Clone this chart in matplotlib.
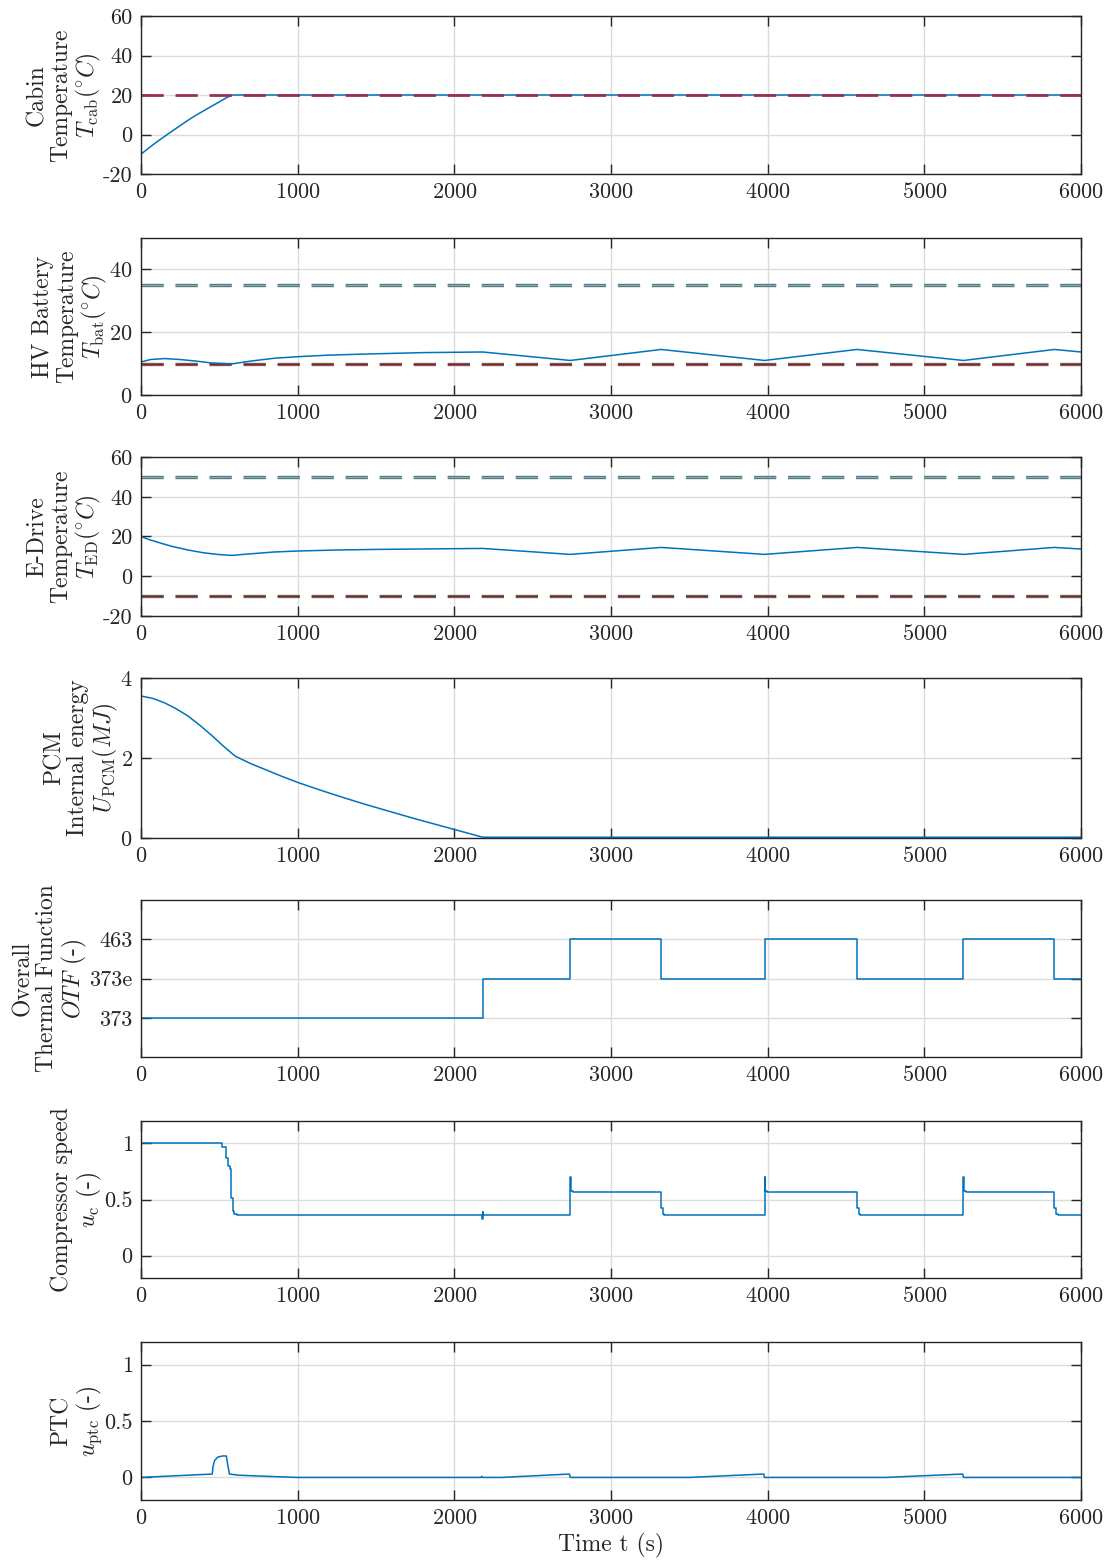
import matplotlib
matplotlib.use('Agg')
import matplotlib.pyplot as plt
import numpy as np

plt.rcParams['font.family'] = 'serif'
plt.rcParams['font.serif'] = ['cmr10', 'DejaVu Serif']
plt.rcParams['mathtext.fontset'] = 'cm'
plt.rcParams['axes.formatter.use_mathtext'] = True
plt.rcParams['lines.scale_dashes'] = False

# ---- data ----
t_cab = [0, 50, 100, 150, 200, 250, 300, 350, 400, 450, 500, 540, 580, 6000]
T_cab = [-10, -6.8, -3.8, -1.0, 1.8, 4.5, 7.2, 9.7, 12.0, 14.3, 16.5, 18.4, 20, 20]
T_cab_ref = 20

t_bat = [0, 60, 150, 250, 350, 450, 580, 700, 850, 1000, 1200, 1400, 1800, 2180, 2740, 3320, 3980, 4570, 5250, 5830, 6000]
T_bat = [10.5, 11.3, 11.6, 11.3, 10.8, 10.2, 9.9, 10.8, 11.7, 12.2, 12.7, 13.0, 13.5, 13.7, 11.0, 14.5, 11.0, 14.5, 11.0, 14.5, 13.7]
T_bat_max = 35
T_bat_min = 10

t_ed = [0, 50, 100, 150, 200, 300, 400, 500, 580, 700, 850, 1000, 1250, 1500, 2180, 2740, 3320, 3980, 4570, 5250, 5830, 6000]
T_ed = [20, 18.5, 17.3, 16.1, 15.0, 13.2, 11.8, 10.9, 10.5, 11.3, 12.2, 12.7, 13.2, 13.5, 14.0, 11.0, 14.5, 11.0, 14.5, 11.0, 14.5, 13.7]
T_ed_max = 50
T_ed_min = -10

t_pcm = [0, 75, 150, 225, 300, 375, 450, 525, 600, 700, 800, 900, 1000, 1150, 1300, 1450, 1600, 1750, 1900, 2050, 2180, 6000]
U_pcm = [3.55, 3.49, 3.38, 3.23, 3.05, 2.82, 2.57, 2.30, 2.05, 1.86, 1.70, 1.54, 1.39, 1.19, 1.00, 0.82, 0.65, 0.48, 0.32, 0.16, 0.02, 0.02]

t_otf = [0, 2180, 2740, 3320, 3980, 4570, 5250, 5830, 6000]
otf_level = [1, 2, 3, 2, 3, 2, 3, 2, 2]
otf_labels = ['373', '373e', '463']

t_comp = [0, 520, 540, 555, 565, 575, 585, 595, 610,
          2175, 2180, 2185,
          2740, 2745, 2755, 3320, 3330, 3340,
          3980, 3985, 3995, 4570, 4580, 4590,
          5250, 5255, 5265, 5830, 5840, 5850, 6000]
u_comp = [1.0, 0.97, 0.87, 0.80, 0.77, 0.51, 0.40, 0.37, 0.36,
          0.33, 0.39, 0.36,
          0.70, 0.58, 0.57, 0.42, 0.37, 0.36,
          0.70, 0.58, 0.57, 0.42, 0.37, 0.36,
          0.70, 0.58, 0.57, 0.42, 0.37, 0.36, 0.36]

t_ptc = [0, 455, 460, 470, 490, 520, 545, 555, 565, 620, 800, 1000, 2170, 2175, 2180,
         2300, 2735, 2740, 3500, 3975, 3980, 4750, 5245, 5250, 6000]
u_ptc = [0, 0.03, 0.10, 0.15, 0.18, 0.19, 0.19, 0.10, 0.03, 0.02, 0.01, 0.0, 0.0, 0.01, 0.0,
         0.0, 0.03, 0.0, 0.0, 0.03, 0.0, 0.0, 0.03, 0.0, 0.0]

blue = '#0072BD'
W, H = 1112, 1560
fig = plt.figure(figsize=(W / 100, H / 100), dpi=100)

# pixel boxes (top, bottom) of the seven panels
boxes = [(16, 174), (238, 395), (457, 616), (678, 838), (900, 1057), (1121, 1278), (1342, 1500)]
x0, x1 = 141, 1081
axes = []
for top, bot in boxes:
    ax = fig.add_axes([x0 / W, 1 - bot / H, (x1 - x0) / W, (bot - top) / H])
    ax.set_xlim(0, 6000)
    ax.set_xticks(np.arange(0, 6001, 1000))
    ax.grid(True, color='#dcdcdc', linewidth=1.0)
    ax.set_axisbelow(True)
    ax.tick_params(direction='in', length=7, width=1.0, top=True, right=True,
                   labelsize=16, colors='#262626', pad=6)
    for s in ax.spines.values():
        s.set_color('#262626')
        s.set_linewidth(1.0)
    axes.append(ax)


def bound(ax, y, inner):
    ax.axhline(y, color='#6b6a5a', lw=2.4, dashes=(16, 8.5))
    ax.axhline(y, color=inner, lw=0.9, dashes=(16, 8.5))


lab = dict(fontsize=17, linespacing=1.1, color='#262626', labelpad=0)

ax = axes[0]
ax.plot(t_cab, T_cab, color=blue, lw=1.1)
ax.axhline(T_cab_ref, color='#98304f', lw=2.0, dashes=(16, 8.5))
ax.set_ylim(-20, 60)
ax.set_yticks([-20, 0, 20, 40, 60])
ax.set_yticklabels(['-20', '0', '20', '40', '60'])
ax.set_ylabel('Cabin\nTemperature\n$T_{\\mathrm{cab}}(^{\\circ}C)$', **lab)

ax = axes[1]
bound(ax, T_bat_max, '#4DBEEE')
bound(ax, T_bat_min, '#A2142F')
ax.plot(t_bat, T_bat, color=blue, lw=1.1)
ax.set_ylim(0, 50)
ax.set_yticks([0, 20, 40])
ax.set_ylabel('HV Battery\nTemperature\n$T_{\\mathrm{bat}}(^{\\circ}C)$', **lab)

ax = axes[2]
bound(ax, T_ed_max, '#4DBEEE')
bound(ax, T_ed_min, '#7a2a25')
ax.plot(t_ed, T_ed, color=blue, lw=1.1)
ax.set_ylim(-20, 60)
ax.set_yticks([-20, 0, 20, 40, 60])
ax.set_yticklabels(['-20', '0', '20', '40', '60'])
ax.set_ylabel('E-Drive\nTemperature\n$T_{\\mathrm{ED}}(^{\\circ}C)$', **lab)

ax = axes[3]
ax.plot(t_pcm, U_pcm, color=blue, lw=1.1)
ax.set_ylim(0, 4)
ax.set_yticks([0, 2, 4])
ax.set_ylabel('PCM\nInternal energy\n$U_{\\mathrm{PCM}}(MJ)$', **lab)

ax = axes[4]
ax.plot(t_otf, otf_level, color=blue, lw=1.1, drawstyle='steps-post')
ax.set_ylim(0, 4)
ax.set_yticks([1, 2, 3])
ax.set_yticklabels(otf_labels)
ax.set_ylabel('Overall\nThermal Function\n$OTF$ (-)', **lab)

ax = axes[5]
ax.plot(t_comp, u_comp, color=blue, lw=1.1, drawstyle='steps-post')
ax.set_ylim(-0.2, 1.2)
ax.set_yticks([0, 0.5, 1])
ax.set_yticklabels(['0', '0.5', '1'])
ax.set_ylabel('Compressor speed\n$u_{\\mathrm{c}}$ (-)', **lab)

ax = axes[6]
ax.plot(t_ptc, u_ptc, color=blue, lw=1.1)
ax.set_ylim(-0.2, 1.2)
ax.set_yticks([0, 0.5, 1])
ax.set_yticklabels(['0', '0.5', '1'])
ax.set_ylabel('PTC\n$u_{\\mathrm{ptc}}$ (-)', **lab)
ax.set_xlabel('Time t (s)', fontsize=17, color='#262626', labelpad=3)

fig.savefig('out.png', dpi=100)
